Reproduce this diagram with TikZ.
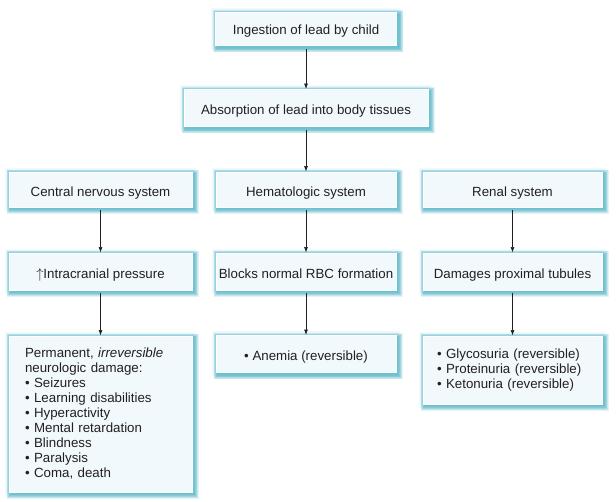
\documentclass[tikz,border=0pt]{standalone}
\usepackage{fontspec}
\setmainfont{Liberation Sans}
\usetikzlibrary{arrows.meta,backgrounds}
\definecolor{boxfill}{HTML}{F1F9FC}
\definecolor{shadowcol}{HTML}{1E9DB3}
\definecolor{glowcol}{HTML}{9ED8E3}
\definecolor{txt}{HTML}{231F20}
\begin{document}
\begin{tikzpicture}[x=1pt,y=-1pt,
  boxbase/.style={draw=white, line width=0.9pt, fill=boxfill, inner sep=0pt,
    text=txt, font=\fontsize{13.3}{15}\selectfont},
  box/.style={boxbase, minimum height=35pt, text height=15pt, text depth=1pt},
  arr/.style={draw=txt, line width=0.7pt, shorten <=3pt, -{Latex[length=5.5pt,width=4pt]}}]
\useasboundingbox (0,0) rectangle (616,502);
\node[box, minimum width=181pt, minimum height=33pt, text height=13pt] (b1) at (306,29) {Ingestion of lead by child};
\node[box, minimum width=244pt, minimum height=37pt] (b2) at (306,108) {Absorption of lead into body tissues};
\node[box, minimum width=183pt] (cns) at (100.5,189.5) {Central nervous system};
\node[box, minimum width=180pt] (hem) at (306,189.5) {Hematologic system};
\node[box, minimum width=179pt] (ren) at (512.5,189.5) {Renal system};
\node[box, minimum width=183pt, minimum height=37pt] (icp) at (100.5,271.5) {$\uparrow$Intracranial pressure};
\node[box, minimum width=180pt, minimum height=37pt] (blk) at (306,271.5) {Blocks normal RBC formation};
\node[box, minimum width=179pt, minimum height=37pt] (dmg) at (512.5,271.5) {Damages proximal tubules};
\node[boxbase, text width=151pt, inner xsep=16pt, minimum height=156pt, align=left] (perm) at (100.5,414)
  {Permanent, \textit{irreversible}\\ neurologic damage:\\ \textbullet\ Seizures\\ \textbullet\ Learning disabilities\\
   \textbullet\ Hyperactivity\\ \textbullet\ Mental retardation\\ \textbullet\ Blindness\\ \textbullet\ Paralysis\\ \textbullet\ Coma, death};
\node[box, minimum width=180pt, minimum height=37pt] (anem) at (306,354) {\textbullet\ Anemia (reversible)};
\node[boxbase, text width=151pt, inner xsep=14pt, minimum height=68pt, align=left] (uria) at (512.5,370)
  {\textbullet\ Glycosuria (reversible)\\ \textbullet\ Proteinuria (reversible)\\ \textbullet\ Ketonuria (reversible)};
\begin{scope}[on background layer]
\foreach \n in {b1,b2,cns,hem,ren,icp,blk,dmg,perm,anem,uria}{
  \foreach \k in {1,...,4}{
    \fill[glowcol, opacity=0.12]
      ([shift={(-\k*0.9,-\k*0.9)}]\n.north west) rectangle
      ([shift={(\k*0.9,\k*0.9)}]\n.south east);
  }
  \foreach \k in {1,...,6}{
    \fill[shadowcol, opacity=0.13]
      ([shift={(-\k*0.7+2.2,-\k*0.7+2.2)}]\n.north west) rectangle
      ([shift={(\k*0.7+2.2,\k*0.7+2.2)}]\n.south east);
  }
}
\end{scope}
\draw[arr] (b1.south) -- (b2.north);
\draw[arr] (b2.south) -- (hem.north);
\draw[arr] (cns.south) -- (icp.north);
\draw[arr] (icp.south) -- (perm.north);
\draw[arr] (hem.south) -- (blk.north);
\draw[arr] (blk.south) -- (anem.north);
\draw[arr] (ren.south) -- (dmg.north);
\draw[arr] (dmg.south) -- (uria.north);
\end{tikzpicture}
\end{document}
